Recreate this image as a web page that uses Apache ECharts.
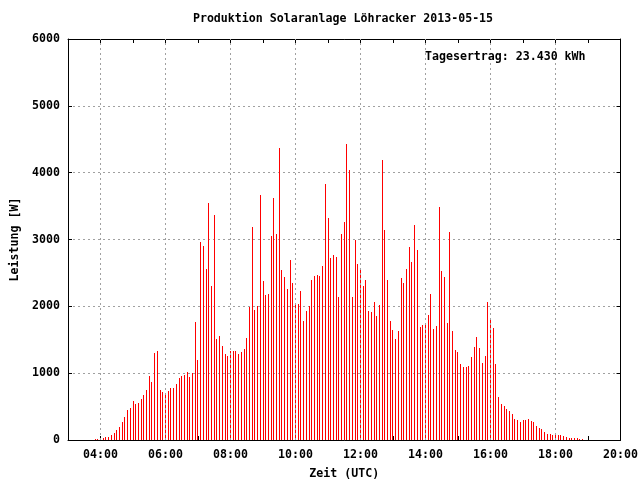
<!DOCTYPE html>
<html>
<head>
<meta charset="utf-8">
<script src="https://cdn.jsdelivr.net/npm/echarts@6/dist/echarts.min.js"></script>
<style>html,body{margin:0;padding:0;background:#fff}#c{width:640px;height:480px}</style>
</head>
<body>
<div id="c"></div>
<script>
const chartTitle = 'Produktion Solaranlage Löhracker 2013-05-15';
const yieldText = 'Tagesertrag: 23.430 kWh';
const xTitle = 'Zeit (UTC)';
const yTitle = 'Leistung [W]';

const times = [
 '03:50','03:55',
 '04:00','04:05','04:10','04:15','04:20','04:25','04:30','04:35','04:40','04:45','04:50','04:55',
 '05:00','05:05','05:10','05:15','05:20','05:25','05:30','05:35','05:40','05:45','05:50','05:55',
 '06:00','06:05','06:10','06:15','06:20','06:25','06:30','06:35','06:40','06:45','06:50','06:55',
 '07:00','07:05','07:10','07:15','07:20','07:25','07:30','07:35','07:40','07:45','07:50','07:55',
 '08:00','08:05','08:10','08:15','08:20','08:25','08:30','08:35','08:40','08:45','08:50','08:55',
 '09:00','09:05','09:10','09:15','09:20','09:25','09:30','09:35','09:40','09:45','09:50','09:55',
 '10:00','10:05','10:10','10:15','10:20','10:25','10:30','10:35','10:40','10:45','10:50','10:55',
 '11:00','11:05','11:10','11:15','11:20','11:25','11:30','11:35','11:40','11:45','11:50','11:55',
 '12:00','12:05','12:10','12:15','12:20','12:25','12:30','12:35','12:40','12:45','12:50','12:55',
 '13:00','13:05','13:10','13:15','13:20','13:25','13:30','13:35','13:40','13:45','13:50','13:55',
 '14:00','14:05','14:10','14:15','14:20','14:25','14:30','14:35','14:40','14:45','14:50','14:55',
 '15:00','15:05','15:10','15:15','15:20','15:25','15:30','15:35','15:40','15:45','15:50','15:55',
 '16:00','16:05','16:10','16:15','16:20','16:25','16:30','16:35','16:40','16:45','16:50','16:55',
 '17:00','17:05','17:10','17:15','17:20','17:25','17:30','17:35','17:40','17:45','17:50','17:55',
 '18:00','18:05','18:10','18:15','18:20','18:25','18:30','18:35','18:40','18:45','18:50'
];

const power = [
 15,20,
 30,30,45,45,75,105,150,195,270,345,450,480,
 585,540,555,615,675,750,960,870,1305,1335,750,720,
 690,735,780,780,840,928,958,973,1018,943,1003,1766,
 1197,2963,2903,2559,3547,2304,3367,1511,1556,1407,1287,1257,
 1332,1332,1332,1287,1317,1362,1526,1990,3187,1945,2005,3666,
 2379,2170,2185,3053,3621,3083,4370,2544,2439,2260,2694,2349,
 2035,2035,2230,1781,1930,2005,2394,2454,2469,2454,2604,3831,
 3322,2723,2768,2738,2140,3083,3262,4429,4040,2140,2993,2634,
 2574,2304,2394,1925,1915,2065,1856,2020,4190,3142,2394,1781,
 1646,1511,1631,2424,2349,2559,2888,2664,3217,2843,1691,1721,
 1751,1870,2185,1661,1706,3487,2529,2439,1751,3113,1631,1347,
 1317,1137,1092,1092,1107,1242,1392,1541,1377,1152,1257,2065,
 1811,1676,1137,643,539,509,464,434,389,314,299,269,
 299,299,314,284,269,209,180,165,120,90,90,75,
 75,75,75,60,45,30,30,30,30,15,15
];

const gridHours = ['04:00','06:00','08:00','10:00','12:00','14:00','16:00','18:00'];
const yTicks = [0,1000,2000,3000,4000,5000,6000];

function toMin(s){const p=s.split(':');return (+p[0])*60+(+p[1]);}
function fmt(v){const h=Math.floor(v/60),m=v%60;return (h<10?'0':'')+h+':'+(m<10?'0':'')+m;}

const font = 'DejaVu Sans Mono';
const txt = {fontFamily: font, fontWeight: 'bold', fontSize: 11.6, color: '#000'};
const xMin = 180, xMax = 1200;

const chart = echarts.init(document.getElementById('c'), null, {renderer: 'canvas'});
const gridLine = {color: '#a0a0a0', type: [2, 3], width: 1};

chart.setOption({
  animation: false,
  backgroundColor: '#fff',
  title: [
    {text: chartTitle, left: 338, top: 8, textAlign: 'center', textStyle: Object.assign({}, txt)},
    {text: yieldText, left: 420, top: 46, textStyle: Object.assign({}, txt)}
  ],
  grid: {left: 68, right: 19.5, top: 39, bottom: 40, containLabel: false, outerBoundsMode: 'none'},
  xAxis: [
    {type: 'value', position: 'bottom', min: xMin, max: xMax, interval: 60,
     axisLine: {show: true, onZero: false, lineStyle: {color: '#000', width: 1}},
     axisTick: {show: true, inside: true, length: 4, lineStyle: {color: '#000'}},
     axisLabel: Object.assign({margin: 9, formatter: v => (v % 120 === 0 ? fmt(v) : '')}, txt),
     splitLine: {show: false},
     name: xTitle, nameLocation: 'middle', nameGap: 28, nameTextStyle: Object.assign({}, txt)},
    {type: 'value', position: 'top', min: xMin, max: xMax, interval: 60,
     axisLine: {show: true, onZero: false, lineStyle: {color: '#000', width: 1}},
     axisTick: {show: true, inside: true, length: 4, lineStyle: {color: '#000'}},
     axisLabel: {show: false}, splitLine: {show: false}}
  ],
  yAxis: [
    {type: 'value', position: 'left', min: yTicks[0], max: yTicks[yTicks.length-1], interval: 1000,
     axisLine: {show: true, onZero: false, lineStyle: {color: '#000', width: 1}},
     axisTick: {show: true, inside: true, length: 4, lineStyle: {color: '#000'}},
     axisLabel: Object.assign({margin: 8, formatter: v => String(v)}, txt),
     splitLine: {show: true, lineStyle: gridLine},
     name: yTitle, nameLocation: 'middle', nameGap: 47, nameRotate: 90, nameTextStyle: Object.assign({}, txt)},
    {type: 'value', position: 'right', min: yTicks[0], max: yTicks[yTicks.length-1], interval: 1000,
     axisLine: {show: true, onZero: false, lineStyle: {color: '#000', width: 1}},
     axisTick: {show: true, inside: true, length: 4, lineStyle: {color: '#000'}},
     axisLabel: {show: false}, splitLine: {show: false}}
  ],
  series: [
    {type: 'line', data: [], z: 1, silent: true,
     markLine: {silent: true, symbol: ['none', 'none'], label: {show: false}, animation: false,
       lineStyle: gridLine,
       data: gridHours.map(h => ({xAxis: toMin(h)}))}},
    {type: 'custom', z: 2, silent: true,
     encode: {x: 0, y: 1},
     renderItem: function (params, api) {
       const top = api.coord([api.value(0), api.value(1)]);
       const base = api.coord([api.value(0), 0]);
       const x = Math.floor(top[0]);
       const y0 = Math.round(top[1]);
       const y1 = Math.round(base[1]);
       return {type: 'rect', shape: {x: x, y: y0, width: 1, height: y1 - y0},
               style: {fill: '#ff0000'}};
     },
     data: times.map((t, i) => [toMin(t), power[i]])}
  ]
});
</script>
</body>
</html>
